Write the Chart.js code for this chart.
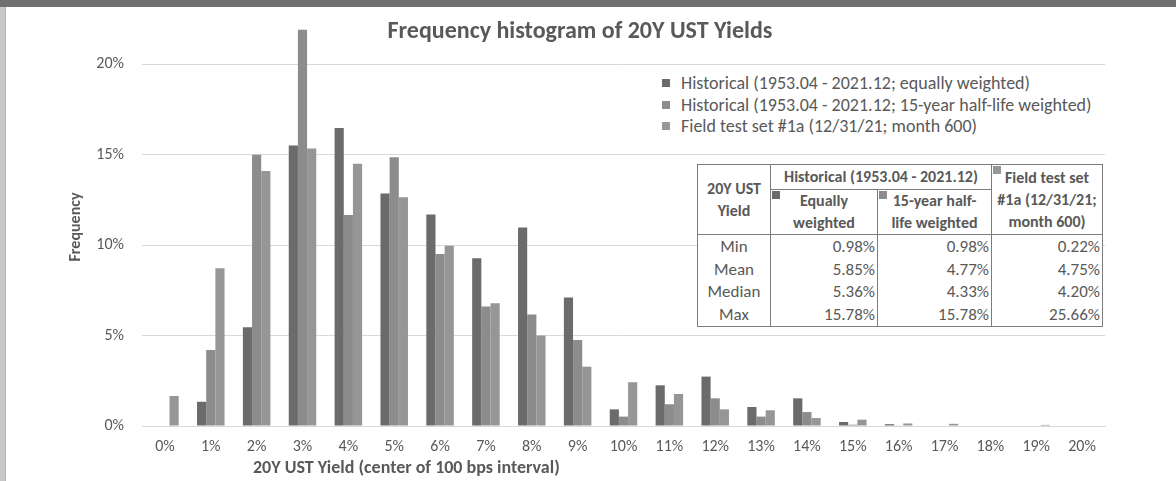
<!DOCTYPE html>
<html>
<head>
<meta charset="utf-8">
<script src="https://cdn.jsdelivr.net/npm/chart.js@4.4.1/dist/chart.umd.min.js"></script>
<style>
  html, body { margin: 0; padding: 0; background: #fff; }
  body { width: 1176px; height: 481px; position: relative; overflow: hidden; font-family: Carlito, Lato, sans-serif; color: #595959; }
  #topband { position: absolute; left: 0; top: 0; width: 1176px; height: 7px; background: #707070; }
  #leftband { position: absolute; left: 0; top: 7px; width: 5px; height: 474px; background: #c8c8c8; border-right: 1px solid #b4b4b4; }
  #wrap { position: absolute; left: 0; top: 0; width: 1176px; height: 481px; }
  #title { position: absolute; left: 0; width: 1160px; top: 15px; text-align: center; font-weight: bold; font-size: 24px; }
  #xtitle { position: absolute; left: 253px; top: 456px; font-weight: bold; font-size: 18px; }
  #legend { position: absolute; left: 656px; top: 72px; background: #fff; padding: 1px 6px; font-size: 18px; }
  #legend div { height: 21.6px; line-height: 21.6px; white-space: nowrap; }
  #legend span.sw { display: inline-block; width: 8px; height: 8px; margin-right: 11px; vertical-align: 2px; }
  #stats { position: absolute; left: 697px; top: 164px; border-collapse: collapse; background: #fff; font-size: 17px; table-layout: fixed; }
  #stats td { border: 1px solid #7c7c7c; padding: 0 2px; position: relative; white-space: nowrap; }
  #stats thead td { font-weight: bold; text-align: center; line-height: 22px; font-size: 16px; }
  #stats tbody td { border-top: none; border-bottom: none; text-align: right; line-height: 22.5px; }
  #stats tbody td.lbl { text-align: center; }
  #stats tbody tr:first-child td { padding-top: 1px; }
  #stats tbody tr:last-child td { border-bottom: 1px solid #7c7c7c; }
  #stats span.mk { position: absolute; left: 1px; top: 1px; width: 8px; height: 8px; }
</style>
</head>
<body>
<div id="wrap"><canvas id="chart" width="1176" height="481"></canvas></div>
<div id="topband"></div>
<div id="leftband"></div>
<div id="title">Frequency histogram of 20Y UST Yields</div>
<div id="xtitle">20Y UST Yield (center of 100 bps interval)</div>
<div id="legend"></div>
<table id="stats"></table>
<script>
// bucket centres of the 100 bps intervals
const buckets = ['0%', '1%', '2%', '3%', '4%', '5%', '6%', '7%', '8%', '9%', '10%',
                 '11%', '12%', '13%', '14%', '15%', '16%', '17%', '18%', '19%', '20%'];

// frequencies in percent
const equalWeighted = [0, 1.34, 5.46, 15.50, 16.47, 12.85, 11.69, 9.27, 10.97, 7.10, 0.92,
                       2.25, 2.73, 1.05, 1.53, 0.22, 0.10, 0, 0, 0, 0];
const halfLifeWeighted = [0, 4.20, 14.99, 21.90, 11.67, 14.86, 9.51, 6.60, 6.16, 4.76, 0.52,
                          1.20, 1.53, 0.52, 0.77, 0.07, 0.02, 0, 0, 0, 0];
const fieldTest = [1.66, 8.72, 14.10, 15.34, 14.49, 12.65, 9.96, 6.79, 5.00, 3.28, 2.42,
                   1.77, 0.92, 0.87, 0.44, 0.35, 0.14, 0.12, 0, 0.06, 0];

const seriesNames = ['Historical (1953.04 - 2021.12; equally weighted)',
                     'Historical (1953.04 - 2021.12; 15-year half-life weighted)',
                     'Field test set #1a (12/31/21; month 600)'];
const seriesColors = ['#6b6b6b', '#8c8c8c', '#969696'];

// summary statistics table
const statNames = ['Min', 'Mean', 'Median', 'Max'];
const equalStats = ['0.98%', '5.85%', '5.36%', '15.78%'];
const halfLifeStats = ['0.98%', '4.77%', '4.33%', '15.78%'];
const fieldStats = ['0.22%', '4.75%', '4.20%', '25.66%'];

const yTicks = [0, 5, 10, 15, 20];

const seriesData = [equalWeighted, halfLifeWeighted, fieldTest];
const tickFont = { family: 'Carlito, Lato, sans-serif', size: 16 };

new Chart(document.getElementById('chart'), {
    type: 'bar',
    data: {
        labels: buckets,
        datasets: seriesData.map((d, i) => ({
            label: seriesNames[i],
            data: d,
            backgroundColor: seriesColors[i],
            borderWidth: 0,
            barPercentage: 1.0,
            categoryPercentage: 0.6
        }))
    },
    options: {
        responsive: false,
        animation: false,
        layout: { padding: { top: 28, right: 71, bottom: 0, left: 0 } },
        plugins: {
            legend: { display: false },
            title: { display: false },
            tooltip: { enabled: false }
        },
        scales: {
            x: {
                grid: { display: false, drawTicks: false },
                border: { color: '#d9d9d9', width: 1 },
                ticks: { color: '#595959', font: tickFont, padding: 11, maxRotation: 0 },
                afterFit: s => { s.height = 55; }
            },
            y: {
                min: 0,
                max: 22,
                afterBuildTicks: s => { s.ticks = yTicks.map(v => ({ value: v })); },
                grid: { color: '#d9d9d9', drawTicks: false },
                border: { display: false },
                ticks: { color: '#595959', font: tickFont, padding: 18, callback: v => v + '%' },
                title: { display: true, text: 'Frequency', color: '#595959', font: { family: 'Carlito, Lato, sans-serif', size: 16, weight: 'bold' }, padding: { top: 66, bottom: 0 } },
                afterFit: s => { s.width = 142; }
            }
        }
    }
});

// legend
const legend = document.getElementById('legend');
seriesNames.forEach((name, i) => {
    legend.insertAdjacentHTML('beforeend',
        `<div><span class="sw" style="background:${seriesColors[i]}"></span>${name}</div>`);
});

// statistics table
const mark = c => `<span class="mk" style="background:${c}"></span>`;
let html = `
<colgroup><col style="width:73px"><col style="width:107px"><col style="width:114px"><col style="width:111px"></colgroup>
<thead>
  <tr>
    <td rowspan="2">20Y UST<br>Yield</td>
    <td colspan="2" style="line-height:24px">Historical (1953.04 - 2021.12)</td>
    <td rowspan="2">${mark(seriesColors[2])}Field test set<br>#1a (12/31/21;<br>month 600)</td>
  </tr>
  <tr>
    <td>${mark(seriesColors[0])}Equally<br>weighted</td>
    <td>${mark(seriesColors[1])}15-year half-<br>life weighted</td>
  </tr>
</thead><tbody>`;
statNames.forEach((n, i) => {
    html += `<tr><td class="lbl">${n}</td><td>${equalStats[i]}</td><td>${halfLifeStats[i]}</td><td>${fieldStats[i]}</td></tr>`;
});
html += '</tbody>';
document.getElementById('stats').innerHTML = html;
</script>
</body>
</html>
